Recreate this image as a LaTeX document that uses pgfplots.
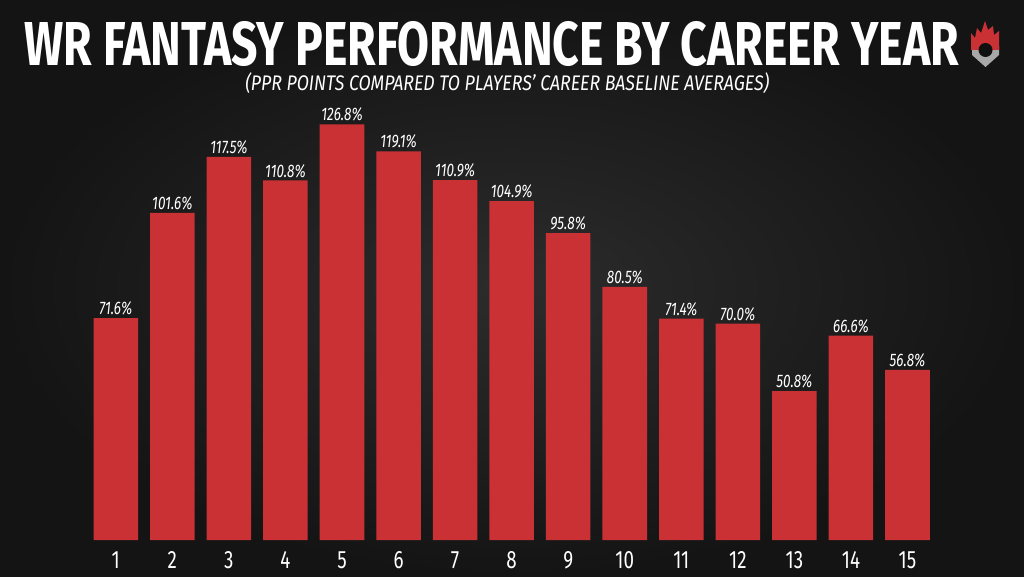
\documentclass[border=0pt]{standalone}
\usepackage{pgfplots}
\pgfplotsset{compat=1.18}
\usepackage{fontspec}
\setmainfont{Fira Sans}
\newfontfamily\condfont[FakeStretch=0.75]{Fira Sans}
\definecolor{barred}{RGB}{201,49,53}
\definecolor{bgdark}{RGB}{20,20,20}
\definecolor{bgmid}{RGB}{44,44,44}
\definecolor{logogray}{RGB}{168,168,168}
\begin{document}
\begin{tikzpicture}
\shade[inner color=bgmid, outer color=bgdark] (0,0) rectangle (768pt,432pt);
\begin{axis}[
  at={(44.44pt,27pt)}, anchor=south west,
  scale only axis, width=678.6pt, height=346.5pt,
  xmin=0, xmax=16, ymin=8.35, ymax=140,
  ybar, bar width=33.4pt,
  axis line style={draw=none}, tick style={draw=none}, major tick length=0pt,
  ytick=\empty,
  xtick={1,2,3,4,5,6,7,8,9,10,11,12,13,14,15},
  xticklabels={1,2,3,4,5,6,7,8,9,10,11,12,13,14,15},
  xticklabel style={font=\condfont\fontsize{18.8pt}{20pt}\selectfont, text=white, anchor=base, yshift=-21.2pt, inner sep=0pt},
  nodes near coords style={font=\condfont\itshape\fontsize{13.6pt}{15pt}\selectfont, text=white, anchor=base, yshift=2.6pt, inner sep=0pt},
  clip=true,
]
\addplot[fill=barred, draw=none, point meta=explicit symbolic, nodes near coords={\pgfplotspointmeta\%}] coordinates {
 (1,71.6)[71.6] (2,101.6)[101.6] (3,117.5)[117.5] (4,110.8)[110.8] (5,126.8)[126.8]
 (6,119.1)[119.1] (7,110.9)[110.9] (8,104.9)[104.9] (9,95.8)[95.8] (10,80.5)[80.5]
 (11,71.4)[71.4] (12,70.0)[70.0] (13,50.8)[50.8] (14,66.6)[66.6] (15,56.8)[56.8]
};
\end{axis}
% title and subtitle
\node[anchor=base west, inner sep=0pt, text=white] at (18pt,382.7pt)
  {\resizebox{701pt}{32.25pt}{\bfseries\raisebox{0pt}[\fontcharht\font`W][0pt]{WR FANTASY PERFORMANCE BY CAREER YEAR}}};
\node[anchor=base west, inner sep=0pt, text=white] at (183.75pt,364pt)
  {\resizebox{393pt}{10.9pt}{\itshape\raisebox{0pt}[\fontcharht\font`P][0pt]{(PPR POINTS COMPARED TO PLAYERS’ CAREER BASELINE AVERAGES)}}};
% logo
\begin{scope}[shift={(0,432pt)}, x=0.75pt, y=-0.75pt]
  \fill[logogray] (972,46) -- (999,46) -- (999,55) -- (985.5,67) -- (972,55) -- cycle;
  \fill[barred] (971,50) -- (971,33) -- (975,38) -- (977,28) -- (981,33) -- (985,21) -- (988,30) -- (993,26) -- (994,35) -- (999,31) -- (999,50) -- cycle;
  \fill[bgdark!80!black] (985.5,50) circle (7);
\end{scope}
\pgfresetboundingbox
\useasboundingbox (0,0) rectangle (768pt,432pt);
\end{tikzpicture}
\end{document}
